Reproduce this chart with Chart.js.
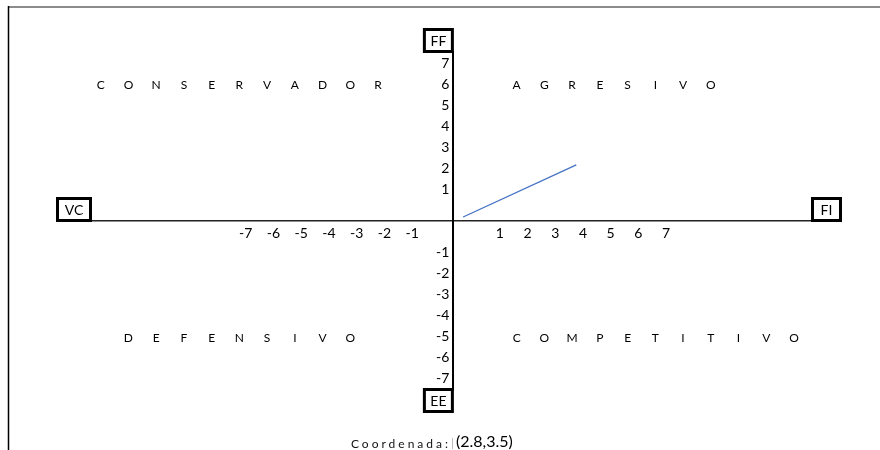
<!DOCTYPE html>
<html>
<head>
<meta charset="utf-8">
<script src="https://cdn.jsdelivr.net/npm/chart.js@4.4.0/dist/chart.umd.min.js"></script>
<style>
  html, body { margin: 0; padding: 0; background: #fff; }
  #wrap { width: 880px; height: 450px; position: relative; }
</style>
</head>
<body>
<div id="wrap"><canvas id="chart" width="880" height="450"></canvas></div>
<script>
// tick labels on each axis
const xTickLabels = [-7, -6, -5, -4, -3, -2, -1, 1, 2, 3, 4, 5, 6, 7]
const yTickLabels = [-7, -6, -5, -4, -3, -2, -1, 1, 2, 3, 4, 5, 6, 7]

// the strategic position line
const lineX = [0.37, 4.45]
const lineY = [0.19, 2.67]

// axis end labels and quadrant names
const axisNames = { top: "FF", bottom: "EE", left: "VC", right: "FI" }
const quadrants = ["CONSERVADOR", "AGRESIVO", "DEFENSIVO", "COMPETITIVO"]
const coordText = "(2.8,3.5)"

const FONT = "Lato, 'Open Sans', sans-serif"

// labels sit half a cell away from the axis lines
function xTickPos(v) { return v < 0 ? v - 0.47 : v + 0.69 }
function yTickPos(v) { return v < 0 ? v - 0.5 : v + 0.5 }

// draws the frame, boxed axis names, quadrant names and the coordinate note
const decorations = {
  id: "decorations",
  beforeDraw(chart) {
    const ctx = chart.ctx
    ctx.save()
    ctx.strokeStyle = "#8c8c8c"
    ctx.lineWidth = 2
    ctx.beginPath()
    ctx.moveTo(8, 7)
    ctx.lineTo(880, 7)
    ctx.stroke()
    ctx.strokeStyle = "#000"
    ctx.lineWidth = 1.5
    ctx.beginPath()
    ctx.moveTo(8.5, 6)
    ctx.lineTo(8.5, 450)
    ctx.stroke()
    ctx.restore()
  },
  afterDraw(chart) {
    const ctx = chart.ctx
    const area = chart.chartArea
    const xs = chart.scales.x
    const ys = chart.scales.y
    const x0 = xs.getPixelForValue(0)
    const y0 = ys.getPixelForValue(0)

    ctx.save()

    // boxed axis names
    function box(text, left, top, w, h) {
      ctx.lineWidth = 3
      ctx.strokeStyle = "#000"
      ctx.strokeRect(left + 1.5, top + 1.5, w - 3, h - 3)
      ctx.fillStyle = "#000"
      ctx.font = "14px " + FONT
      ctx.textAlign = "center"
      ctx.textBaseline = "middle"
      ctx.fillText(text, left + w / 2, top + h / 2 + 1)
    }
    box(axisNames.top, x0 - 30, area.top - 24, 31, 25)
    box(axisNames.bottom, x0 - 30, area.bottom - 2, 31, 25)
    box(axisNames.left, area.left - 35, y0 - 24, 36, 25)
    box(axisNames.right, area.right - 1, y0 - 24, 31, 25)

    // quadrant names, one letter per cell
    ctx.font = "12px " + FONT
    ctx.fillStyle = "#000"
    ctx.textAlign = "center"
    ctx.textBaseline = "middle"
    const starts = [[-12.7, 6.48], [2.3, 6.48], [-11.7, -5.57], [2.3, -5.57]]
    quadrants.forEach((word, i) => {
      const [sx, sy] = starts[i]
      word.split("").forEach((ch, j) => {
        ctx.fillText(ch, xs.getPixelForValue(sx + j), ys.getPixelForValue(sy))
      })
    })

    // coordinate note
    ctx.textBaseline = "middle"
    ctx.textAlign = "right"
    ctx.font = "12px " + FONT
    ctx.letterSpacing = "3px"
    ctx.fillStyle = "#111"
    ctx.fillText("Coordenada:", 451, 444)
    ctx.letterSpacing = "0px"
    ctx.strokeStyle = "#bbb"
    ctx.lineWidth = 1
    ctx.beginPath()
    ctx.moveTo(452.5, 438)
    ctx.lineTo(452.5, 449)
    ctx.stroke()
    ctx.textAlign = "left"
    ctx.font = "16px " + FONT
    ctx.fillStyle = "#000"
    ctx.fillText(coordText, 456, 442)

    ctx.restore()
  },
}

new Chart(document.getElementById("chart"), {
  type: "scatter",
  data: {
    datasets: [
      {
        data: lineX.map((x, i) => ({ x: x, y: lineY[i] })),
        showLine: true,
        borderColor: "#4472c4",
        borderWidth: 1.3,
        pointRadius: 0,
      },
    ],
  },
  options: {
    responsive: false,
    animation: false,
    layout: { padding: { left: 91, right: 68, top: 52, bottom: 60 } },
    plugins: {
      legend: { display: false },
      tooltip: { enabled: false },
    },
    scales: {
      x: {
        type: "linear",
        min: -13.05,
        max: 12.95,
        position: { y: 0 },
        grid: { display: false, drawTicks: false },
        border: { display: true, color: "#222", width: 1.6 },
        afterBuildTicks: (scale) => {
          scale.ticks = xTickLabels.map((v) => ({ value: xTickPos(v) }))
        },
        ticks: {
          autoSkip: false,
          maxRotation: 0,
          padding: 4,
          color: "#000",
          font: { family: FONT, size: 14 },
          callback: (val, i) => String(xTickLabels[i]),
        },
      },
      y: {
        type: "linear",
        min: -8.05,
        max: 8.05,
        position: { x: 0 },
        grid: { display: false, drawTicks: false },
        border: { display: true, color: "#000", width: 2 },
        afterBuildTicks: (scale) => {
          scale.ticks = yTickLabels.map((v) => ({ value: yTickPos(v) }))
        },
        ticks: {
          autoSkip: false,
          color: "#000",
          font: { family: FONT, size: 14 },
          // trailing space keeps the right-aligned label off the axis line
          callback: (val, i) => String(yTickLabels[i]) + " ",
        },
      },
    },
  },
  plugins: [decorations],
})
</script>
</body>
</html>
